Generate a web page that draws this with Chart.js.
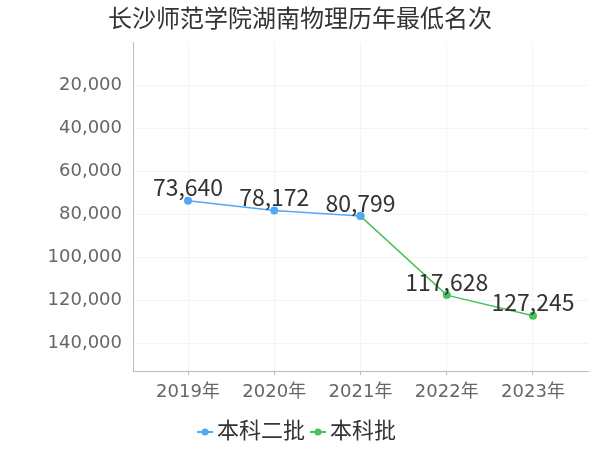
<!DOCTYPE html>
<html>
<head>
<meta charset="utf-8">
<script src="https://cdn.jsdelivr.net/npm/chart.js@4"></script>
<style>
  html, body { margin: 0; padding: 0; background: #fff; }
  #wrap { width: 600px; height: 450px; }
</style>
</head>
<body>
<div id="wrap"><canvas id="myChart" width="600" height="450"></canvas></div>
<script>
// data
const years = [2019, 2020, 2021, 2022, 2023];
const erPi = [73640, 78172, 80799, null, null];   // 本科二批
const benKePi = [null, null, 80799, 117628, 127245]; // 本科批
const yTicks = [20000, 40000, 60000, 80000, 100000, 120000, 140000];

const FONT = "'DejaVu Sans', 'Noto Sans CJK SC', sans-serif";
const LABEL_FONT = "'Noto Sans CJK SC', sans-serif";
const blue = '#52a8f5';
const green = '#46c35a';

// little legend marker: line with a dot in the middle
const makeMarker = (color) => {
    const c = document.createElement('canvas');
    c.width = 16; c.height = 10;
    const g = c.getContext('2d');
    g.strokeStyle = color;
    g.lineWidth = 2;
    g.beginPath(); g.moveTo(0, 5); g.lineTo(16, 5); g.stroke();
    g.fillStyle = color;
    g.beginPath(); g.arc(8, 5, 3.5, 0, Math.PI * 2); g.fill();
    return c;
};

const valueLabels = {
    id: 'valueLabels',
    afterDatasetsDraw(chart) {
        const ctx = chart.ctx;
        const done = {};
        ctx.save();
        ctx.font = '23px ' + LABEL_FONT;
        ctx.fillStyle = '#333';
        ctx.textAlign = 'center';
        ctx.textBaseline = 'middle';
        chart.data.datasets.forEach((ds, i) => {
            const meta = chart.getDatasetMeta(i);
            meta.data.forEach((pt, j) => {
                const v = ds.data[j].y;
                if (v == null) return;
                const key = j + '_' + v;
                if (done[key]) return; // shared 2021 point, label once
                done[key] = true;
                ctx.fillText(v.toLocaleString('en-US'), pt.x, pt.y - 13);
            });
        });
        ctx.restore();
    }
};

const toPoints = (arr) => arr.map((v, i) => ({x: years[i], y: v}));

var ctx = document.getElementById('myChart').getContext('2d');

var myChart = new Chart(ctx, {
    type: 'line',
    data: {
        datasets: [{
            label: '本科二批',
            data: toPoints(erPi),
            borderColor: blue,
            backgroundColor: blue,
            borderWidth: 1.5,
            pointRadius: 4,
            pointHoverRadius: 4,
            pointBorderWidth: 0,
            tension: 0
        }, {
            label: '本科批',
            data: toPoints(benKePi),
            borderColor: green,
            backgroundColor: green,
            borderWidth: 1.5,
            pointRadius: 4,
            pointHoverRadius: 4,
            pointBorderWidth: 0,
            tension: 0
        }]
    },
    options: {
        responsive: false,
        animation: false,
        layout: { padding: { top: 0, left: 0, right: 0, bottom: -3 } },
        scales: {
            x: {
                type: 'linear',
                min: 2018.362,
                max: 2023.638,
                afterBuildTicks: (scale) => { scale.ticks = years.map(v => ({value: v})); },
                afterFit: (scale) => { scale.height = 38; },
                ticks: {
                    callback: (v) => v + '年',
                    font: { size: 18, family: FONT },
                    color: '#666',
                    padding: 7,
                    maxRotation: 0
                },
                grid: { color: '#f4f4f4', tickColor: '#bbb', tickLength: 4 },
                border: { color: '#bbb' }
            },
            y: {
                reverse: true,
                min: 0,
                max: 153000,
                afterBuildTicks: (scale) => { scale.ticks = yTicks.map(v => ({value: v})); },
                afterFit: (scale) => { scale.width = 133; },
                ticks: {
                    callback: (v) => v.toLocaleString('en-US'),
                    font: { size: 18, family: FONT },
                    color: '#666',
                    padding: 11
                },
                grid: { color: '#f4f4f4', drawTicks: false },
                border: { color: '#bbb' }
            },
            pad: {
                position: 'right',
                afterFit: (scale) => { scale.width = 12; },
                ticks: { display: false },
                grid: { display: false },
                border: { display: false }
            }
        },
        plugins: {
            title: {
                display: true,
                text: '长沙师范学院湖南物理历年最低名次',
                font: { size: 24, family: FONT, weight: 'normal' },
                color: '#333',
                padding: { top: 6, bottom: 8 }
            },
            legend: {
                position: 'bottom',
                labels: {
                    usePointStyle: true,
                    pointStyleWidth: 2,
                    padding: 12,
                    font: { size: 22, family: FONT },
                    color: '#333',
                    generateLabels: (chart) => {
                        const items = Chart.defaults.plugins.legend.labels.generateLabels(chart);
                        items.forEach((it, i) => {
                            it.pointStyle = makeMarker(i === 0 ? blue : green);
                        });
                        return items;
                    }
                }
            },
            tooltip: { enabled: false }
        }
    },
    plugins: [valueLabels]
});
</script>
</body>
</html>
